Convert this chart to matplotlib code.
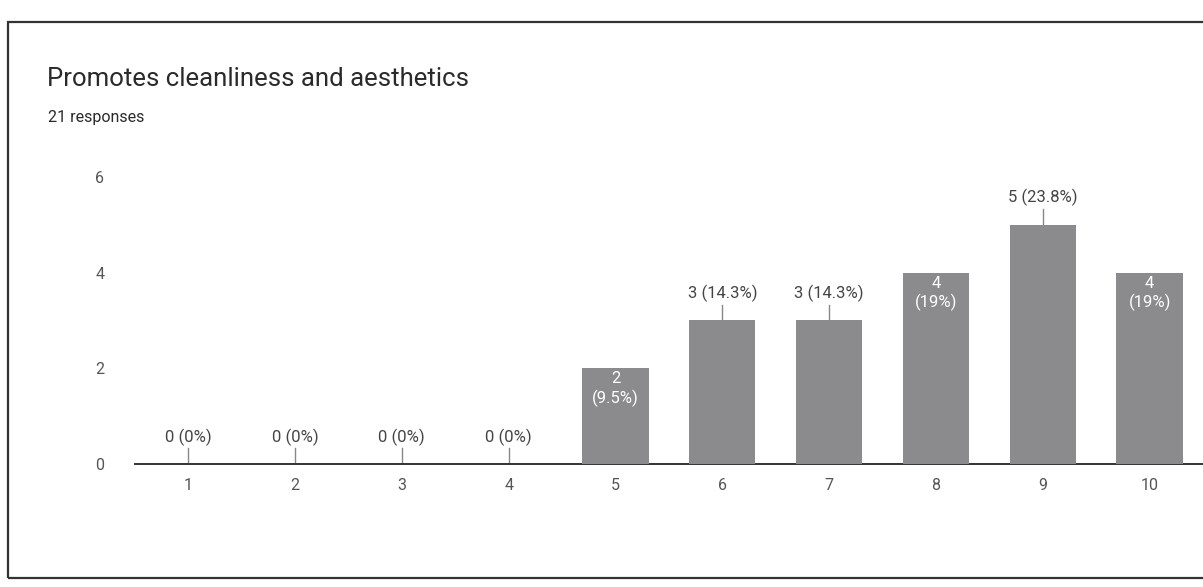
import matplotlib
matplotlib.use("Agg")
import matplotlib.pyplot as plt
from matplotlib.patches import Rectangle

# data
ratings = [1, 2, 3, 4, 5, 6, 7, 8, 9, 10]
counts = [0, 0, 0, 0, 2, 3, 3, 4, 5, 4]
pct_labels = ["0%", "0%", "0%", "0%", "9.5%", "14.3%", "14.3%", "19%", "23.8%", "19%"]
inside = [False, False, False, False, True, False, False, True, False, True]

TITLE = "Promotes cleanliness and aesthetics"
SUBTITLE = "21 responses"

BAR = "#8b8b8e"
INK, MUTE = "#2a2a2a", "#555555"
plt.rcParams["font.family"] = ["Roboto", "DejaVu Sans"]

fig = plt.figure(figsize=(12.03, 5.87), dpi=100)
fig.patches.append(Rectangle((0.007, 0.015), 1.0, 0.948, transform=fig.transFigure,
                             fill=False, edgecolor="#333333", linewidth=1.6))
fig.text(0.039, 0.866, TITLE, fontsize=18.5, color=INK, ha="left", va="center")
fig.text(0.040, 0.800, SUBTITLE, fontsize=11.5, color=INK, ha="left", va="center")

ax = fig.add_axes([0.112, 0.209, 0.888, 0.531])
ax.bar(ratings, counts, width=0.62, color=BAR, zorder=3)
for x, c, p, ins in zip(ratings, counts, pct_labels, inside):
    if ins:
        ax.text(x, c - 0.22, str(c), ha="center", va="center", color="white", fontsize=12, zorder=4)
        ax.text(x, c - 0.62, f"({p})", ha="center", va="center", color="white", fontsize=12, zorder=4)
    else:
        ax.plot([x, x], [c, c + 0.33], color="#888888", linewidth=1, zorder=2)
        ax.text(x, c + 0.56, f"{c} ({p})", ha="center", va="center", color="#444444", fontsize=12)

ax.set_xlim(0.5, 10.5)
ax.set_ylim(0, 6.5)
ax.set_xticks(ratings)
ax.set_yticks([0, 2, 4, 6])
ax.tick_params(axis="both", length=0, labelsize=11.5, colors=MUTE)
ax.tick_params(axis="x", pad=10)
ax.tick_params(axis="y", pad=22)
for s in ("top", "right", "left"):
    ax.spines[s].set_visible(False)
ax.spines["bottom"].set_color("#333333")
ax.spines["bottom"].set_linewidth(1.4)

fig.savefig("out.png", dpi=100)
